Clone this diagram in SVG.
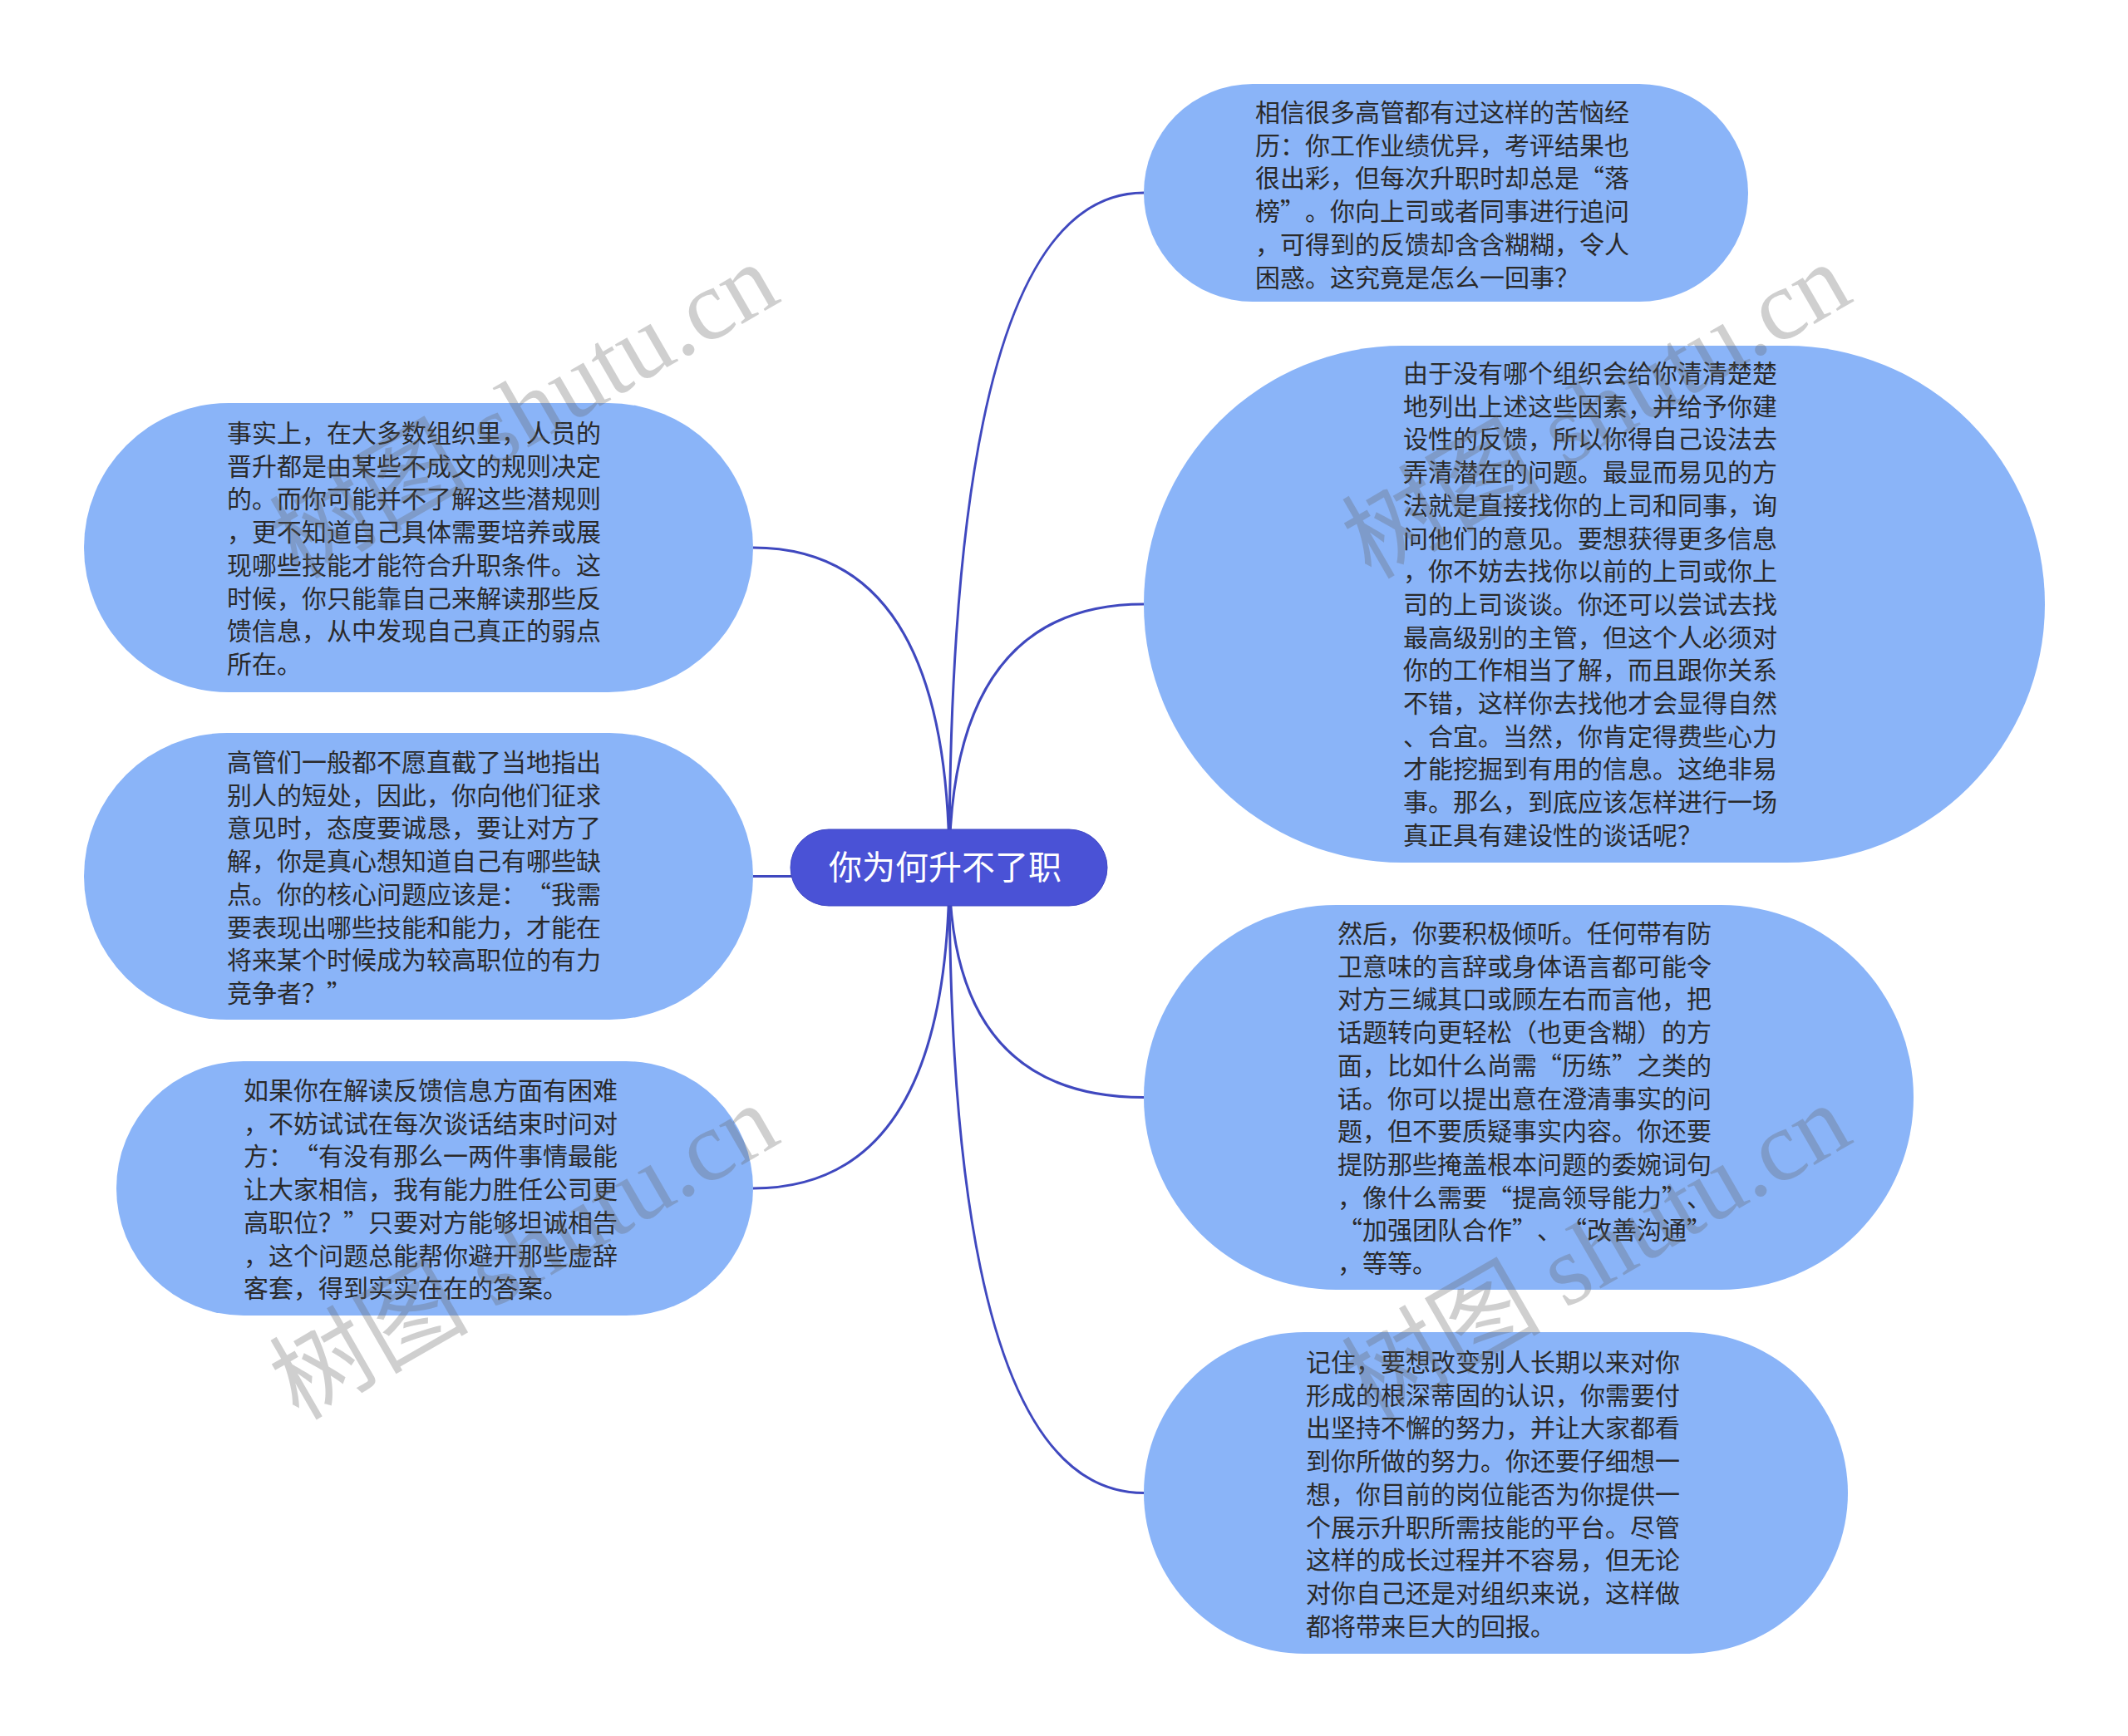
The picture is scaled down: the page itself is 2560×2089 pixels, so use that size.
<svg xmlns="http://www.w3.org/2000/svg" width="2560" height="2089" viewBox="0 0 2560 2089">
<style>
.node{fill:#8ab4f8;}
.root{fill:#4a52d6;stroke:#3f47c4;stroke-width:1;}
.t{font-family:"Noto Sans CJK SC","Noto Sans",sans-serif;font-size:30px;fill:#2a2a2a;text-spacing-trim:space-all;}
.rt{font-family:"Noto Sans CJK SC","Noto Sans",sans-serif;font-size:40px;fill:#ffffff;text-anchor:middle;}
.edge{fill:none;stroke:#3f48bf;stroke-width:3;}
.wm{font-family:"Liberation Serif","Noto Sans CJK SC",serif;font-size:120px;fill:#646464;opacity:0.3;}
</style>
<rect width="2560" height="2089" fill="#ffffff"/>
<g id="connectors">
<path class="edge" d="M1142,1044 Q1142,232 1376,232"/>
<path class="edge" d="M1142,1044 Q1142,727 1376,727"/>
<path class="edge" d="M1142,1044 Q1142,1320.5 1376,1320.5"/>
<path class="edge" d="M1142,1044 Q1142,1796.5 1376,1796.5"/>
<path class="edge" d="M1142,1044 Q1142,659 906,659"/>
<path class="edge" d="M1142,1044 Q1142,1054.5 906,1054.5"/>
<path class="edge" d="M1142,1044 Q1142,1430 906,1430"/>
</g>
<g id="root">
<rect class="root" x="951" y="998" width="381" height="92" rx="46" ry="46"/>
<text class="rt" x="1137" y="1058">你为何升不了职</text>
</g>
<g id="r1">
<rect class="node" x="1376" y="101" width="727" height="262" rx="131" ry="131"/>
<text class="t" x="1510" y="146"><tspan x="1510">相信很多高管都有过这样的苦恼经</tspan><tspan x="1510" dy="39.7">历：你工作业绩优异，考评结果也</tspan><tspan x="1510" dy="39.7">很出彩，但每次升职时却总是“落</tspan><tspan x="1510" dy="39.7">榜”。你向上司或者同事进行追问</tspan><tspan x="1510" dy="39.7">，可得到的反馈却含含糊糊，令人</tspan><tspan x="1510" dy="39.7">困惑。这究竟是怎么一回事？</tspan></text>
</g>
<g id="r2">
<rect class="node" x="1376" y="416" width="1084" height="622" rx="311" ry="311"/>
<text class="t" x="1688" y="460"><tspan x="1688">由于没有哪个组织会给你清清楚楚</tspan><tspan x="1688" dy="39.7">地列出上述这些因素，并给予你建</tspan><tspan x="1688" dy="39.7">设性的反馈，所以你得自己设法去</tspan><tspan x="1688" dy="39.7">弄清潜在的问题。最显而易见的方</tspan><tspan x="1688" dy="39.7">法就是直接找你的上司和同事，询</tspan><tspan x="1688" dy="39.7">问他们的意见。要想获得更多信息</tspan><tspan x="1688" dy="39.7">，你不妨去找你以前的上司或你上</tspan><tspan x="1688" dy="39.7">司的上司谈谈。你还可以尝试去找</tspan><tspan x="1688" dy="39.7">最高级别的主管，但这个人必须对</tspan><tspan x="1688" dy="39.7">你的工作相当了解，而且跟你关系</tspan><tspan x="1688" dy="39.7">不错，这样你去找他才会显得自然</tspan><tspan x="1688" dy="39.7">、合宜。当然，你肯定得费些心力</tspan><tspan x="1688" dy="39.7">才能挖掘到有用的信息。这绝非易</tspan><tspan x="1688" dy="39.7">事。那么，到底应该怎样进行一场</tspan><tspan x="1688" dy="39.7">真正具有建设性的谈话呢？</tspan></text>
</g>
<g id="r3">
<rect class="node" x="1376" y="1089" width="926" height="463" rx="231.5" ry="231.5"/>
<text class="t" x="1609" y="1134"><tspan x="1609">然后，你要积极倾听。任何带有防</tspan><tspan x="1609" dy="39.7">卫意味的言辞或身体语言都可能令</tspan><tspan x="1609" dy="39.7">对方三缄其口或顾左右而言他，把</tspan><tspan x="1609" dy="39.7">话题转向更轻松（也更含糊）的方</tspan><tspan x="1609" dy="39.7">面，比如什么尚需“历练”之类的</tspan><tspan x="1609" dy="39.7">话。你可以提出意在澄清事实的问</tspan><tspan x="1609" dy="39.7">题，但不要质疑事实内容。你还要</tspan><tspan x="1609" dy="39.7">提防那些掩盖根本问题的委婉词句</tspan><tspan x="1609" dy="39.7">，像什么需要“提高领导能力”、</tspan><tspan x="1609" dy="39.7">“加强团队合作”、“改善沟通”</tspan><tspan x="1609" dy="39.7">，等等。</tspan></text>
</g>
<g id="r4">
<rect class="node" x="1376" y="1603" width="847" height="387" rx="193.5" ry="193.5"/>
<text class="t" x="1571" y="1650"><tspan x="1571">记住，要想改变别人长期以来对你</tspan><tspan x="1571" dy="39.7">形成的根深蒂固的认识，你需要付</tspan><tspan x="1571" dy="39.7">出坚持不懈的努力，并让大家都看</tspan><tspan x="1571" dy="39.7">到你所做的努力。你还要仔细想一</tspan><tspan x="1571" dy="39.7">想，你目前的岗位能否为你提供一</tspan><tspan x="1571" dy="39.7">个展示升职所需技能的平台。尽管</tspan><tspan x="1571" dy="39.7">这样的成长过程并不容易，但无论</tspan><tspan x="1571" dy="39.7">对你自己还是对组织来说，这样做</tspan><tspan x="1571" dy="39.7">都将带来巨大的回报。</tspan></text>
</g>
<g id="l1">
<rect class="node" x="101" y="485" width="805" height="348" rx="174" ry="174"/>
<text class="t" x="273" y="532"><tspan x="273">事实上，在大多数组织里，人员的</tspan><tspan x="273" dy="39.7">晋升都是由某些不成文的规则决定</tspan><tspan x="273" dy="39.7">的。而你可能并不了解这些潜规则</tspan><tspan x="273" dy="39.7">，更不知道自己具体需要培养或展</tspan><tspan x="273" dy="39.7">现哪些技能才能符合升职条件。这</tspan><tspan x="273" dy="39.7">时候，你只能靠自己来解读那些反</tspan><tspan x="273" dy="39.7">馈信息，从中发现自己真正的弱点</tspan><tspan x="273" dy="39.7">所在。</tspan></text>
</g>
<g id="l2">
<rect class="node" x="101" y="882" width="805" height="345" rx="172.5" ry="172.5"/>
<text class="t" x="273" y="928"><tspan x="273">高管们一般都不愿直截了当地指出</tspan><tspan x="273" dy="39.7">别人的短处，因此，你向他们征求</tspan><tspan x="273" dy="39.7">意见时，态度要诚恳，要让对方了</tspan><tspan x="273" dy="39.7">解，你是真心想知道自己有哪些缺</tspan><tspan x="273" dy="39.7">点。你的核心问题应该是：“我需</tspan><tspan x="273" dy="39.7">要表现出哪些技能和能力，才能在</tspan><tspan x="273" dy="39.7">将来某个时候成为较高职位的有力</tspan><tspan x="273" dy="39.7">竞争者？”</tspan></text>
</g>
<g id="l3">
<rect class="node" x="140" y="1277" width="766" height="306" rx="153" ry="153"/>
<text class="t" x="293" y="1323"><tspan x="293">如果你在解读反馈信息方面有困难</tspan><tspan x="293" dy="39.7">，不妨试试在每次谈话结束时问对</tspan><tspan x="293" dy="39.7">方：“有没有那么一两件事情最能</tspan><tspan x="293" dy="39.7">让大家相信，我有能力胜任公司更</tspan><tspan x="293" dy="39.7">高职位？”只要对方能够坦诚相告</tspan><tspan x="293" dy="39.7">，这个问题总能帮你避开那些虚辞</tspan><tspan x="293" dy="39.7">客套，得到实实在在的答案。</tspan></text>
</g>
<g id="watermarks">
<text class="wm" transform="translate(359,698) rotate(-30)">树图 shutu.cn</text>
<text class="wm" transform="translate(1649,698) rotate(-30)">树图 shutu.cn</text>
<text class="wm" transform="translate(359,1710) rotate(-30)">树图 shutu.cn</text>
<text class="wm" transform="translate(1649,1710) rotate(-30)">树图 shutu.cn</text>
</g>
</svg>
